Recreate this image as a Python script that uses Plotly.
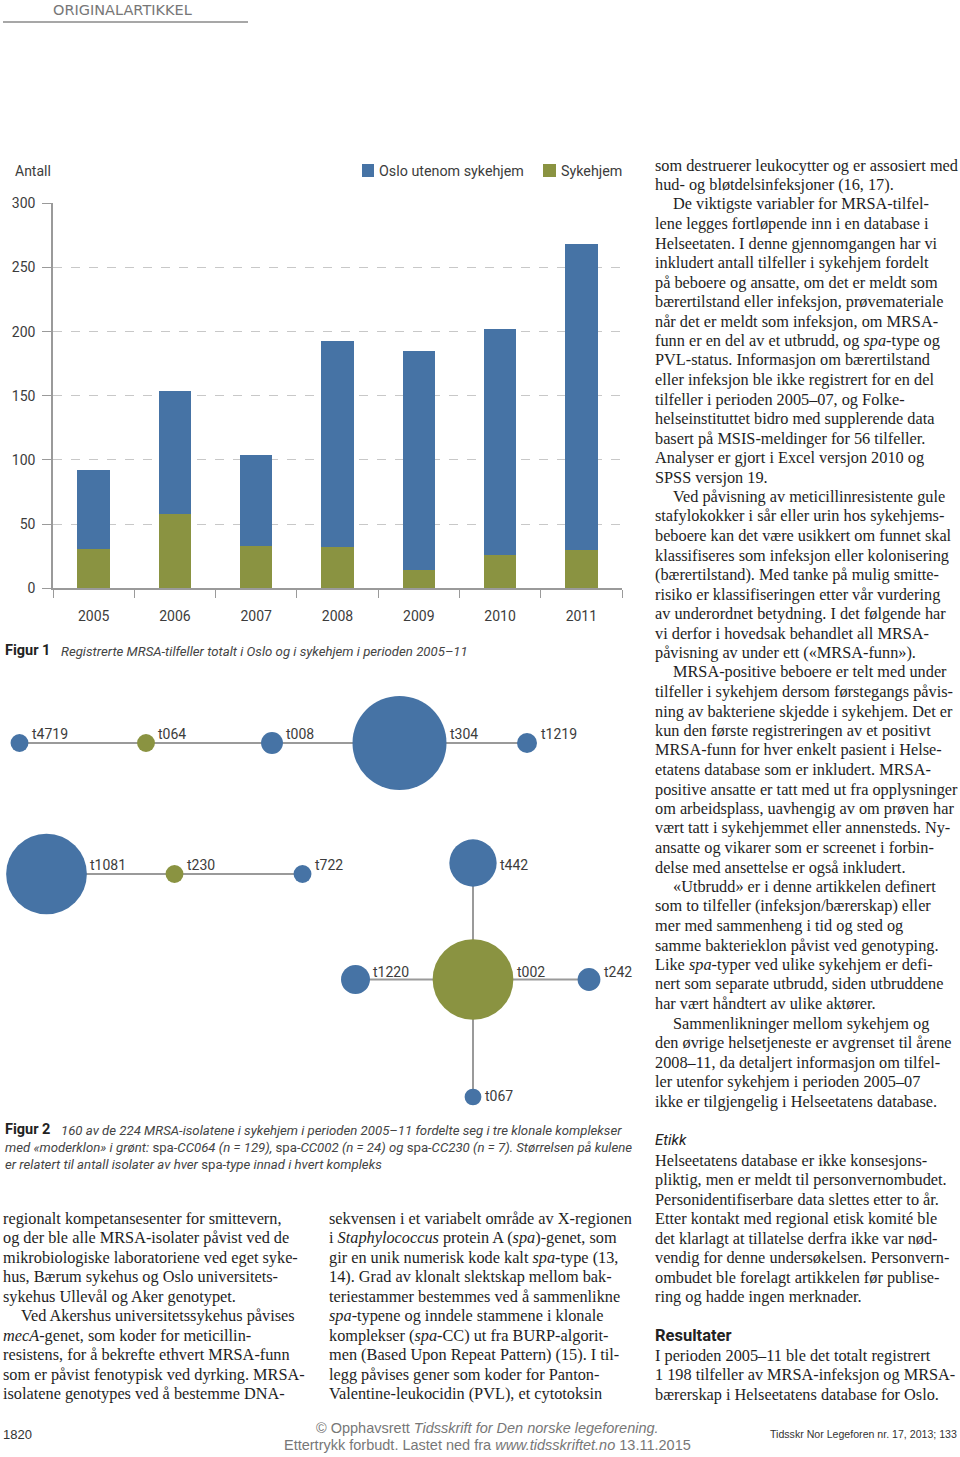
import plotly.graph_objects as go

# ---------------- Data: Figur 1 ----------------
years = ["2005", "2006", "2007", "2008", "2009", "2010", "2011"]
total_cases = [92, 154, 104, 193, 185, 202, 268]
nursing_home = [31, 58, 33, 32, 14, 26, 30]
outside_nh = [t - n for t, n in zip(total_cases, nursing_home)]
y_ticks = [0, 50, 100, 150, 200, 250, 300]

# ---------------- Data: Figur 2 (spa-types) ----------------
node_names = ["t4719", "t064", "t008", "t304", "t1219",
              "t1081", "t230", "t722",
              "t442", "t1220", "t002", "t242", "t067"]
node_value = [8, 8, 12, 221, 10, 163, 8, 8, 56, 21, 163, 13, 7]   # relative isolate counts
node_parent = [False, True, False, False, False,
               False, True, False,
               False, False, True, False, False]
edges = [("t4719", "t064"), ("t064", "t008"), ("t008", "t304"), ("t304", "t1219"),
         ("t1081", "t230"), ("t230", "t722"),
         ("t442", "t002"), ("t1220", "t002"), ("t002", "t242"), ("t002", "t067")]

# layout of the network drawing (page pixels)
node_layout = {
    "t4719": (19.5, 743), "t064": (146, 743), "t008": (272, 743), "t304": (399.5, 743),
    "t1219": (527, 743),
    "t1081": (46.5, 874), "t230": (174.5, 874), "t722": (302.5, 874),
    "t442": (473, 863), "t1220": (355.5, 979.5), "t002": (473, 979.5),
    "t242": (589, 979.5), "t067": (473, 1097),
}
label_dy = {"t442": 2, "t067": -1, "t1220": -7.5, "t002": -7.5, "t242": -7.5}

W, H = 960, 1457
BLUE = "#4673a5"
GREEN = "#8a9341"
GRID = "#c8c8c8"
AXIS = "#9a9a9a"
TXT = "#3c3c3c"
SIZEREF = 0.05
BODY = 16.3


def px(x):
    return x / W


def py(y):
    return 1 - y / H


fig = go.Figure()

# ---- Figure 1 bars ----
fig.add_trace(go.Bar(x=years, y=nursing_home, name="Sykehjem", marker=dict(color=GREEN, line=dict(width=0)),
                     width=0.4, showlegend=False, xaxis="x", yaxis="y"))
fig.add_trace(go.Bar(x=years, y=outside_nh, name="Oslo utenom sykehjem",
                     marker=dict(color=BLUE, line=dict(width=0)),
                     width=0.4, showlegend=False, xaxis="x", yaxis="y"))

# ---- Figure 2 network ----
for a, b in edges:
    (x0, y0), (x1, y1) = node_layout[a], node_layout[b]
    fig.add_trace(go.Scatter(x=[x0, x1], y=[y0, y1], mode="lines",
                             line=dict(color=AXIS, width=2), showlegend=False,
                             hoverinfo="skip", xaxis="x2", yaxis="y2"))

fig.add_trace(go.Scatter(
    x=[node_layout[n][0] for n in node_names],
    y=[node_layout[n][1] for n in node_names],
    mode="markers",
    marker=dict(size=node_value, sizemode="area", sizeref=SIZEREF,
                color=[GREEN if p else BLUE for p in node_parent], line=dict(width=0), opacity=1),
    text=node_names, showlegend=False, xaxis="x2", yaxis="y2"))

annotations = []


def note(x, y, text, size=BODY, family="Liberation Serif", color="#1e1e1e", xanchor="left",
         yanchor="middle", **kw):
    if xanchor == "left":
        x -= 2
    annotations.append(dict(x=px(x), y=py(y), xref="paper", yref="paper", text=text, showarrow=False,
                            xanchor=xanchor, yanchor=yanchor, font=dict(family=family, size=size, color=color),
                            **kw))


# node labels
for n, v in zip(node_names, node_value):
    r = (v / (2 * SIZEREF)) ** 0.5
    cx, cy = node_layout[n]
    note(cx + r + 3.5, cy + label_dy.get(n, -9), n, size=14, family="Roboto", color=TXT)

# ---- header ----
note(53, 0, "ORIGINALARTIKKEL", size=14.5, family="DejaVu Sans", color="#777777", yanchor="top")

# ---- figure 1 texts ----
note(15, 171, "Antall", size=14, family="Roboto", color=TXT)
note(379, 171, "Oslo utenom sykehjem", size=14.3, family="Roboto", color=TXT)
note(561, 171, "Sykehjem", size=14.3, family="Roboto", color=TXT)
note(5, 650, "<b>Figur 1</b>", size=14.5, family="Roboto", color="#222222")
note(61, 651, "<i>Registrerte MRSA-tilfeller totalt i Oslo og i sykehjem i perioden 2005–11</i>",
     size=13.2, family="Roboto", color="#444444")

# ---- figure 2 caption ----
note(5, 1129, "<b>Figur 2</b>", size=14.5, family="Roboto", color="#222222")
note(61, 1130, "<i>160 av de 224 MRSA-isolatene i sykehjem i perioden 2005–11 fordelte seg i tre klonale komplekser</i>",
     size=13.2, family="Roboto", color="#444444")
note(5, 1147, "<i>med «moderklon» i grønt:</i> spa<i>-CC064 (n = 129),</i> spa<i>-CC002 (n = 24) og</i> spa<i>-CC230 (n = 7). Størrelsen på kulene</i>",
     size=13.2, family="Roboto", color="#444444")
note(5, 1164, "<i>er relatert til antall isolater av hver</i> spa<i>-type innad i hvert kompleks</i>",
     size=13.2, family="Roboto", color="#444444")

# ---- body text ----
LH = 19.5
col1 = [
    "regionalt kompetansesenter for smittevern,",
    "og der ble alle MRSA-isolater påvist ved de",
    "mikrobiologiske laboratoriene ved eget syke-",
    "hus, Bærum sykehus og Oslo universitets-",
    "sykehus Ullevål og Aker genotypet.",
    "\u2003Ved Akershus universitetssykehus påvises",
    "<i>mecA</i>-genet, som koder for meticillin-",
    "resistens, for å bekrefte ethvert MRSA-funn",
    "som er påvist fenotypisk ved dyrking. MRSA-",
    "isolatene genotypes ved å bestemme DNA-",
]
col2 = [
    "sekvensen i et variabelt område av X-regionen",
    "i <i>Staphylococcus</i> protein A (<i>spa</i>)-genet, som",
    "gir en unik numerisk kode kalt <i>spa</i>-type (13,",
    "14). Grad av klonalt slektskap mellom bak-",
    "teriestammer bestemmes ved å sammenlikne",
    "<i>spa</i>-typene og inndele stammene i klonale",
    "komplekser (<i>spa</i>-CC) ut fra BURP-algorit-",
    "men (Based Upon Repeat Pattern) (15). I til-",
    "legg påvises gener som koder for Panton-",
    "Valentine-leukocidin (PVL), et cytotoksin",
]
col3 = [
    "som destruerer leukocytter og er assosiert med",
    "hud- og bløtdelsinfeksjoner (16, 17).",
    "\u2003De viktigste variabler for MRSA-tilfel-",
    "lene legges fortløpende inn i en database i",
    "Helseetaten. I denne gjennomgangen har vi",
    "inkludert antall tilfeller i sykehjem fordelt",
    "på beboere og ansatte, om det er meldt som",
    "bærertilstand eller infeksjon, prøvemateriale",
    "når det er meldt som infeksjon, om MRSA-",
    "funn er en del av et utbrudd, og <i>spa</i>-type og",
    "PVL-status. Informasjon om bærertilstand",
    "eller infeksjon ble ikke registrert for en del",
    "tilfeller i perioden 2005–07, og Folke-",
    "helseinstituttet bidro med supplerende data",
    "basert på MSIS-meldinger for 56 tilfeller.",
    "Analyser er gjort i Excel versjon 2010 og",
    "SPSS versjon 19.",
    "\u2003Ved påvisning av meticillinresistente gule",
    "stafylokokker i sår eller urin hos sykehjems-",
    "beboere kan det være usikkert om funnet skal",
    "klassifiseres som infeksjon eller kolonisering",
    "(bærertilstand). Med tanke på mulig smitte-",
    "risiko er klassifiseringen etter vår vurdering",
    "av underordnet betydning. I det følgende har",
    "vi derfor i hovedsak behandlet all MRSA-",
    "påvisning av under ett («MRSA-funn»).",
    "\u2003MRSA-positive beboere er telt med under",
    "tilfeller i sykehjem dersom førstegangs påvis-",
    "ning av bakteriene skjedde i sykehjem. Det er",
    "kun den første registreringen av et positivt",
    "MRSA-funn for hver enkelt pasient i Helse-",
    "etatens database som er inkludert. MRSA-",
    "positive ansatte er tatt med ut fra opplysninger",
    "om arbeidsplass, uavhengig av om prøven har",
    "vært tatt i sykehjemmet eller annensteds. Ny-",
    "ansatte og vikarer som er screenet i forbin-",
    "delse med ansettelse er også inkludert.",
    "\u2003«Utbrudd» er i denne artikkelen definert",
    "som to tilfeller (infeksjon/bærerskap) eller",
    "mer med sammenheng i tid og sted og",
    "samme bakterieklon påvist ved genotyping.",
    "Like <i>spa</i>-typer ved ulike sykehjem er defi-",
    "nert som separate utbrudd, siden utbruddene",
    "har vært håndtert av ulike aktører.",
    "\u2003Sammenlikninger mellom sykehjem og",
    "den øvrige helsetjeneste er avgrenset til årene",
    "2008–11, da detaljert informasjon om tilfel-",
    "ler utenfor sykehjem i perioden 2005–07",
    "ikke er tilgjengelig i Helseetatens database.",
]
col3b = [
    "Helseetatens database er ikke konsesjons-",
    "pliktig, men er meldt til personvernombudet.",
    "Personidentifiserbare data slettes etter to år.",
    "Etter kontakt med regional etisk komité ble",
    "det klarlagt at tillatelse derfra ikke var nød-",
    "vendig for denne undersøkelsen. Personvern-",
    "ombudet ble forelagt artikkelen før publise-",
    "ring og hadde ingen merknader.",
]
col3c = [
    "I perioden 2005–11 ble det totalt registrert",
    "1 198 tilfeller av MRSA-infeksjon og MRSA-",
    "bærerskap i Helseetatens database for Oslo.",
]


def block(lines, x0, y0, size=BODY):
    for i, line in enumerate(lines):
        x = x0
        if line.startswith("\u2003"):
            x = x0 + 18
            line = line[1:]
        note(x, y0 + i * LH, line, size=size)


block(col1, 3, 1218)
block(col2, 329, 1218)
block(col3, 655, 165)
note(655, 1140, "<i>Etikk</i>", size=15, family="Roboto", color="#222222")
block(col3b, 655, 1160)
note(655, 1335, "<b>Resultater</b>", size=16.5, family="Roboto", color="#222222")
block(col3c, 655, 1355)

# ---- footer ----
note(3, 1434, "1820", size=13, family="Liberation Sans", color="#333333")
note(487, 1428, "© Opphavsrett <i>Tidsskrift for Den norske legeforening.</i>", size=14.5,
     family="Liberation Sans", color="#777777", xanchor="center")
note(487, 1445, "Ettertrykk forbudt. Lastet ned fra <i>www.tidsskriftet.no</i> 13.11.2015", size=14.5,
     family="Liberation Sans", color="#777777", xanchor="center")
note(959, 1434, "Tidsskr Nor Legeforen nr. 17, 2013; 133", size=10.6, family="Liberation Sans",
     color="#333333", xanchor="right")

shapes = [
    dict(type="line", xref="paper", yref="paper", x0=px(3), x1=px(248), y0=py(22), y1=py(22),
         line=dict(color="#8a8a8a", width=1.5)),
    dict(type="rect", xref="paper", yref="paper", x0=px(362), x1=px(374), y0=py(177), y1=py(164),
         fillcolor=BLUE, line=dict(width=0)),
    dict(type="rect", xref="paper", yref="paper", x0=px(543), x1=px(556), y0=py(177), y1=py(164),
         fillcolor=GREEN, line=dict(width=0)),
]

fig.update_layout(
    width=W, height=H,
    margin=dict(l=0, r=0, t=0, b=0, autoexpand=False),
    paper_bgcolor="white", plot_bgcolor="rgba(0,0,0,0)",
    barmode="stack", bargap=0.6,
    showlegend=False,
    annotations=annotations,
    shapes=shapes,
    xaxis=dict(domain=[px(53), px(622)], type="category", categoryorder="array", categoryarray=years,
               range=[-0.5, 6.5], showline=True, linecolor=AXIS, linewidth=1.5,
               ticks="outside", tickson="boundaries", ticklen=8, tickcolor=AXIS, tickwidth=1,
               tickfont=dict(family="Roboto", size=14, color=TXT), ticklabelstandoff=14,
               showgrid=False, fixedrange=True),
    yaxis=dict(domain=[py(588.3), py(203.3)], range=[0, 300], tickvals=y_ticks,
               showgrid=True, gridcolor=GRID, griddash="dash", gridwidth=1,
               showline=True, linecolor=AXIS, linewidth=1.5, zeroline=False,
               ticks="outside", ticklen=9, tickcolor=AXIS, tickwidth=1,
               tickfont=dict(family="Roboto", size=14, color=TXT), ticklabelstandoff=4,
               fixedrange=True),
    xaxis2=dict(domain=[0, 1], range=[0, W], visible=False, anchor="y2", fixedrange=True),
    yaxis2=dict(domain=[0, 1], range=[H, 0], visible=False, anchor="x2", fixedrange=True),
)

fig.write_html("out.html", config={"displayModeBar": False},
               post_script="document.body.style.margin='0';document.body.style.overflow='hidden';")
